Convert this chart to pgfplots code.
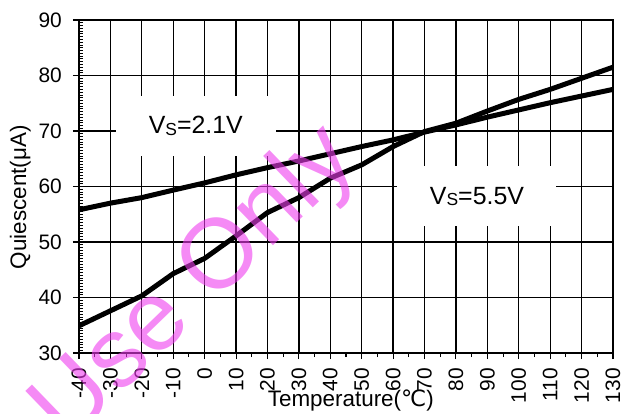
\documentclass[border=0pt]{standalone}
\usepackage{fontspec}
\setmainfont{Liberation Sans}
\newfontfamily\dejavu{DejaVu Sans}
\usepackage{pgfplots}
\pgfplotsset{compat=1.18}
\definecolor{wm}{RGB}{238,60,238}
\begin{document}
\begin{tikzpicture}
\begin{axis}[
  at={(79bp,61bp)}, anchor=south west,
  scale only axis, width=534bp, height=333bp,
  xmin=-40, xmax=130, ymin=30, ymax=90,
  xtick={-40,-30,...,130},
  xticklabels={-40,-30,-20,-10,0,10,20,30,40,50,60,70,80,90,100,110,120,130},
  ytick={30,40,...,90},
  yticklabels={30,40,50,60,70,80,90},
  minor x tick num=1,
  tick align=outside,
  major tick length=6bp, minor tick length=4bp,
  xtick pos=bottom, ytick pos=left,
  grid=major,
  major grid style={black, line width=1.3bp},
  axis line style={black, line width=1.3bp},
  every tick/.style={black, line width=1.1bp},
  extra y ticks={30,30.5,...,90},
  extra y tick labels={},
  extra y tick style={tick align=inside, major tick length=4bp, grid=none, every tick/.style={black, line width=0.8bp}},
  tick label style={font=\fontsize{21}{22}\selectfont},
  xticklabel style={rotate=90, anchor=east, inner xsep=9bp, inner ysep=0bp},
  yticklabel style={inner xsep=11bp, inner ysep=0bp},
  xlabel={Temperature({\dejavu ℃})},
  xlabel style={at={(rel axis cs:0.509,0)}, yshift=-48bp, anchor=center, font=\fontsize{22.5}{24}\selectfont},
  ylabel={Quiescent(μA)},
  ylabel style={at={(rel axis cs:-0.11,0.468)}, anchor=center, font=\fontsize{22.5}{24}\selectfont},
]
\node[fill=white, minimum width=160bp, minimum height=60bp, inner sep=0, font=\fontsize{25}{26}\selectfont]
  at (axis cs:-2.8,70.9) {V\raisebox{-1.5bp}{\fontsize{17.5}{18}\selectfont S}=2.1V};
\node[fill=white, minimum width=159bp, minimum height=60bp, inner sep=0, font=\fontsize{25}{26}\selectfont]
  at (axis cs:86.7,58.2) {V\raisebox{-1.5bp}{\fontsize{17.5}{18}\selectfont S}=5.5V};
\addplot[black, line width=5bp, line join=round, no marks] coordinates {
(-40,55.8)(-30,57)(-20,58)(-10,59.35)(0,60.65)(10,62.1)(20,63.4)(30,64.6)(40,65.9)(50,67.2)(60,68.4)(70,69.8)(80,71.1)(90,72.5)(100,73.8)(110,75.1)(120,76.3)(130,77.5)};
\addplot[black, line width=5bp, line join=round, no marks] coordinates {
(-40,34.9)(-30,37.6)(-20,40.3)(-10,44.3)(0,47.05)(10,51.1)(20,55.3)(30,58)(40,61.5)(50,63.9)(60,67.2)(70,69.9)(80,71.4)(90,73.6)(100,75.7)(110,77.5)(120,79.5)(130,81.5)};
\coordinate (wmpos) at (axis cs:-2.75,42.1);
\end{axis}
\node[overlay, text=wm, opacity=0.6, rotate=44, font=\fontsize{99}{100}\selectfont, anchor=center]
  at (wmpos) {Use Only};
\pgfresetboundingbox
\path (0,0) rectangle (622bp,414bp);
\end{tikzpicture}
\end{document}
